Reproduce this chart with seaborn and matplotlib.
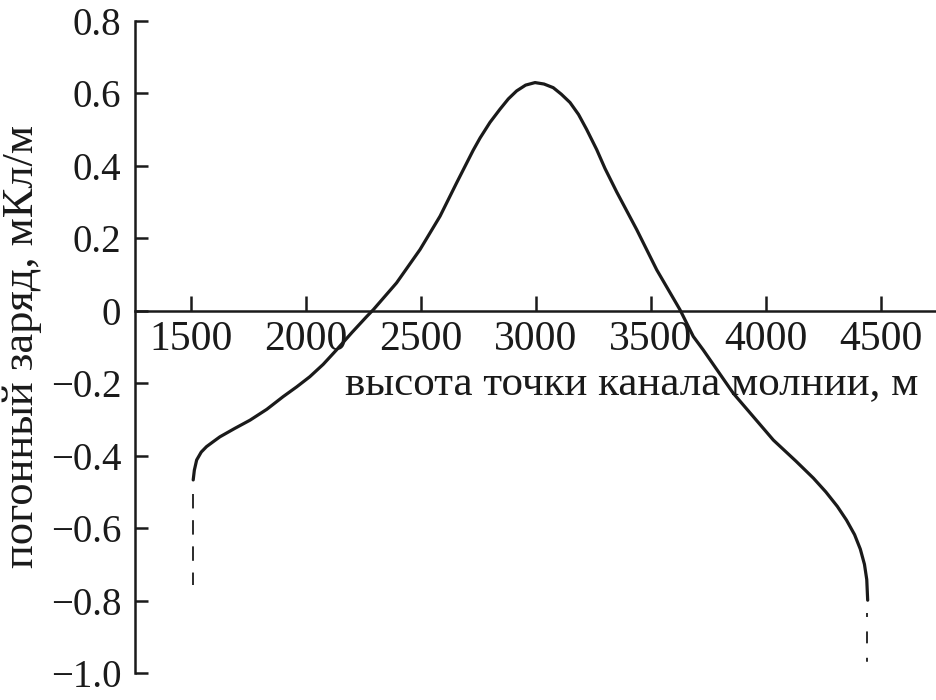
import matplotlib
matplotlib.use("Agg")
import matplotlib.pyplot as plt
import seaborn as sns
import pandas as pd

# --- data ---
height_m = [1510, 1515, 1525, 1545, 1568, 1600, 1626, 1690, 1757, 1830, 1901, 1960,
            2017, 2075, 2133, 2200, 2264, 2293, 2394, 2496, 2583, 2655, 2727, 2757,
            2800, 2843, 2880, 2916, 2955, 2996, 3035, 3075, 3110, 3148, 3185, 3220,
            3264, 3300, 3351, 3438, 3525, 3626, 3684, 3727, 3858, 4032, 4130, 4206,
            4260, 4310, 4350, 4385, 4410, 4428, 4438, 4442]
charge = [-0.467, -0.440, -0.412, -0.390, -0.375, -0.360, -0.348, -0.325, -0.302, -0.272,
          -0.237, -0.210, -0.182, -0.148, -0.108, -0.060, -0.016, 0.003, 0.077, 0.169,
          0.261, 0.353, 0.443, 0.477, 0.520, 0.556, 0.585, 0.607, 0.623, 0.630, 0.626,
          0.616, 0.598, 0.575, 0.542, 0.501, 0.445, 0.393, 0.328, 0.224, 0.113, 0.003,
          -0.071, -0.108, -0.228, -0.357, -0.415, -0.462, -0.500, -0.540, -0.578, -0.618,
          -0.658, -0.700, -0.742, -0.799]

left_dash_x = [1510, 1510]
left_dash_y = [-0.505, -0.758]
right_dash_x = [4441, 4441]
right_dash_y = [-0.833, -0.979]

xticks = [1500, 2000, 2500, 3000, 3500, 4000, 4500]
yticks = [0.8, 0.6, 0.4, 0.2, 0, -0.2, -0.4, -0.6, -0.8, -1.0]
ytick_labels = ["0.8", "0.6", "0.4", "0.2", "0", "\u22120.2", "\u22120.4", "\u22120.6", "\u22120.8", "\u22121.0"]

xlabel = "высота точки канала молнии, м"
ylabel = "погонный заряд, мКл/м"

sns.set_theme(style="white")
plt.rcParams["font.family"] = ["Liberation Serif", "DejaVu Serif"]
plt.rcParams["axes.unicode_minus"] = True

fig = plt.figure(figsize=(9.36, 7.0), dpi=100)
ax = fig.add_axes([135 / 936, 1 - 673 / 700, 1 - 135 / 936, (673 - 21) / 700])

df = pd.DataFrame({"h": height_m, "q": charge})
sns.lineplot(data=df, x="h", y="q", sort=False, estimator=None, color="#1a1a1a",
             linewidth=2.3, ax=ax)
sns.lineplot(x=left_dash_x, y=left_dash_y, sort=False, estimator=None, color="#1a1a1a",
             linewidth=1.3, ax=ax, linestyle=(0, (8, 6.5)))
sns.lineplot(x=right_dash_x, y=right_dash_y, sort=False, estimator=None, color="#1a1a1a",
             linewidth=1.3, ax=ax, linestyle=(0, (2.2, 8, 6.6, 8)))

ax.set_xlim(1257, 4739)
ax.set_ylim(-1.0, 0.8)

for s in ["top", "right"]:
    ax.spines[s].set_visible(False)
ax.spines["bottom"].set_position(("data", 0))
ax.spines["left"].set_bounds(-1.0, 0.8)
for s in ["left", "bottom"]:
    ax.spines[s].set_color("#1a1a1a")
    ax.spines[s].set_linewidth(1.8)

ax.set_xticks(xticks)
ax.set_xticklabels([str(v) for v in xticks], fontsize=30)
ax.set_yticks(yticks)
ax.set_yticklabels(ytick_labels, fontsize=28)
ax.tick_params(axis="x", direction="in", length=11, width=1.8, color="#1a1a1a",
               pad=7, labelcolor="#1a1a1a", bottom=True)
ax.tick_params(axis="y", direction="in", length=9, width=1.8, color="#1a1a1a",
               pad=10, labelcolor="#1a1a1a", left=True)

ax.set_xlabel("")
ax.set_ylabel(ylabel, fontsize=32, color="#1a1a1a", labelpad=6)
ax.text(4661, -0.232, xlabel, fontsize=31, color="#1a1a1a", ha="right", va="baseline")

fig.savefig("out.png", dpi=100)
